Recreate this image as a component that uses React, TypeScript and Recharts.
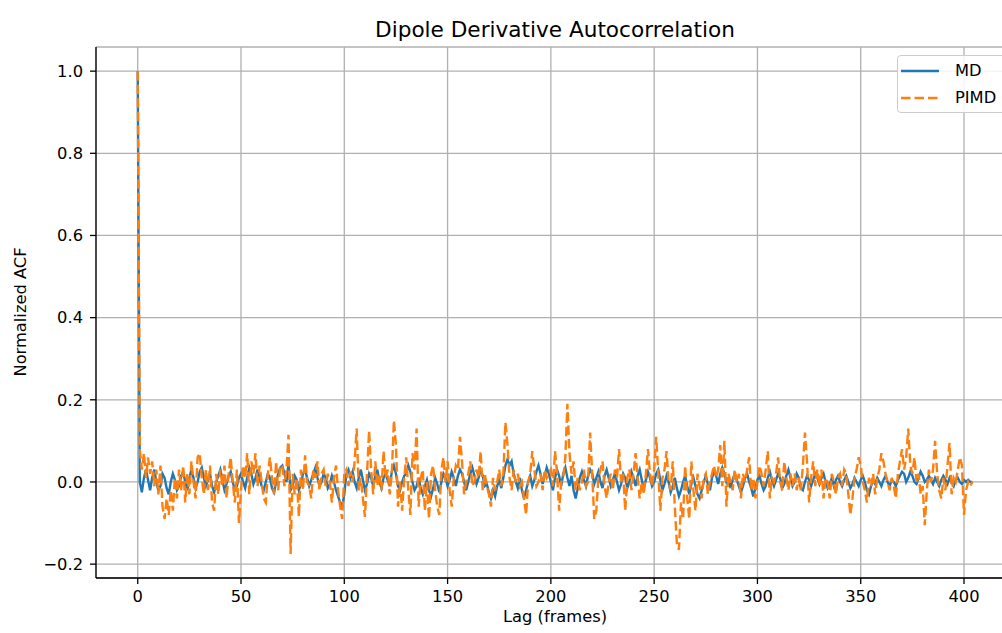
import { LineChart, Line, XAxis, YAxis, CartesianGrid, Legend, Label } from 'recharts'

// normalized ACF of the dipole derivative, one value per lag frame (0..404)
const MD = [
  1.0, 0.0, -0.025, 0.01, 0.03, 0.005, -0.02, 0.01, 0.03, 0.0,
  -0.02, -0.01, 0.02, 0.01, -0.015, -0.03, 0.0, 0.02, 0.005, -0.02,
  -0.01, 0.015, 0.025, 0.0, -0.02, 0.01, 0.03, 0.01, -0.015, 0.0,
  0.025, 0.035, 0.01, -0.01, 0.005, 0.02, -0.01, -0.025, 0.0, 0.015,
  0.03, 0.005, -0.02, -0.005, 0.015, 0.025, 0.0, -0.02, -0.01, 0.01,
  0.02, 0.0, -0.015, 0.01, 0.035, 0.02, -0.005, 0.01, 0.03, 0.01,
  -0.01, -0.02, 0.0, 0.02, 0.01, -0.015, -0.025, 0.0, 0.02, 0.035,
  0.04, 0.02, 0.0, 0.045, -0.02, -0.01, 0.015, 0.005, -0.02, -0.005,
  0.02, 0.03, 0.01, -0.01, 0.005, 0.02, 0.035, 0.01, -0.01, 0.0,
  0.02, 0.01, -0.015, -0.005, 0.015, 0.0, -0.02, -0.035, -0.05, -0.06,
  -0.03, 0.02, 0.03, 0.01, 0.025, 0.0, -0.015, 0.01, 0.03, 0.005,
  -0.02, -0.005, 0.02, 0.01, -0.01, 0.015, 0.03, 0.0, -0.015, 0.01,
  0.02, 0.005, -0.01, 0.025, 0.04, 0.02, -0.01, -0.02, 0.0, 0.015,
  0.02, 0.04, 0.025, 0.0, -0.02, -0.01, 0.01, -0.015, -0.03, -0.01,
  0.005, -0.02, -0.035, -0.015, 0.01, -0.005, -0.025, 0.0, 0.02, 0.01,
  -0.01, 0.005, 0.025, 0.01, -0.01, 0.015, 0.03, 0.02, 0.0, -0.02,
  0.0, 0.02, 0.035, 0.015, -0.005, 0.01, 0.03, 0.015, -0.01, -0.005,
  -0.025, -0.04, -0.02, -0.035, -0.01, 0.005, -0.015, 0.01, 0.04, 0.055,
  0.04, 0.05, 0.02, 0.0, -0.015, 0.01, -0.02, -0.04, -0.02, 0.0,
  0.015, -0.01, 0.005, 0.025, 0.04, 0.02, -0.005, 0.015, 0.035, 0.02,
  0.0, -0.02, 0.01, 0.03, 0.015, -0.01, 0.02, 0.035, 0.01, -0.01,
  0.015, -0.02, -0.04, -0.015, 0.01, 0.025, 0.005, -0.01, 0.015, 0.03,
  0.02, -0.005, 0.01, 0.025, 0.0, -0.015, 0.015, 0.03, 0.01, -0.01,
  0.005, 0.02, 0.0, -0.02, -0.005, 0.02, 0.01, -0.015, 0.0, 0.025,
  0.01, -0.01, 0.015, 0.03, 0.005, -0.015, 0.005, 0.025, 0.01, -0.01,
  0.0, 0.02, 0.03, 0.005, -0.02, -0.005, 0.015, 0.0, -0.025, -0.01,
  0.01, -0.015, -0.035, -0.02, 0.0, 0.015, -0.01, -0.03, -0.005, 0.01,
  -0.01, -0.03, -0.04, -0.02, 0.0, 0.015, -0.005, -0.02, 0.01, 0.025,
  0.015, -0.005, 0.02, 0.035, 0.02, 0.0, 0.01, -0.015, 0.005, 0.02,
  0.005, -0.01, -0.025, -0.01, 0.01, 0.02, 0.0, -0.015, -0.035, -0.015,
  0.005, 0.015, -0.005, -0.02, -0.01, 0.01, 0.025, 0.005, -0.01, 0.005,
  0.02, 0.01, -0.015, -0.005, 0.015, 0.03, 0.01, -0.01, 0.0, 0.02,
  0.01, -0.015, -0.02, 0.0, 0.015, 0.005, -0.01, 0.005, 0.02, 0.01,
  -0.005, 0.01, 0.02, 0.0, -0.015, -0.005, 0.01, -0.01, 0.005, 0.015,
  0.0, -0.01, 0.005, 0.015, 0.0, -0.015, -0.005, 0.01, 0.0, -0.01,
  0.005, 0.015, 0.0, -0.02, -0.03, -0.01, 0.005, -0.005, 0.01, 0.0,
  -0.01, 0.005, 0.015, 0.0, -0.01, 0.005, 0.0, -0.01, 0.005, 0.015,
  0.025, 0.02, 0.0, 0.01, 0.025, 0.015, 0.0, -0.005, 0.01, 0.025,
  0.015, 0.0, 0.005, 0.015, 0.005, -0.005, 0.01, 0.0, -0.01, 0.005,
  0.015, 0.005, -0.005, 0.01, 0.0, -0.01, 0.005, 0.01, 0.0, -0.005,
  0.005, 0.0, 0.005, 0.0, 0.0,
]

const PIMD = [
  1.0, 0.08, 0.03, 0.07, 0.01, 0.06, 0.02, 0.05, -0.01, 0.03,
  -0.03, 0.04, -0.06, -0.09, -0.04, -0.08, -0.02, -0.07, 0.01, -0.04,
  0.03, -0.02, 0.04, -0.05, 0.02, -0.03, 0.05, 0.0, -0.04, 0.06,
  0.07, 0.01, -0.03, 0.03, -0.02, 0.04, -0.05, -0.07, 0.02, -0.03,
  0.03, -0.01, 0.04, -0.04, 0.02, 0.06, 0.0, -0.05, 0.03, -0.1,
  -0.02, 0.04, 0.01, 0.07, -0.03, 0.05, 0.02, 0.07, -0.01, 0.04,
  0.0, -0.04, -0.05, 0.02, 0.06, 0.01, -0.03, 0.05, -0.02, 0.04,
  0.04, -0.01, 0.03, 0.115, -0.175, 0.02, -0.03, 0.01, -0.085, 0.03,
  -0.02, 0.065, 0.0, -0.01, -0.04, 0.03, 0.01, 0.05, -0.02, 0.02,
  0.03, -0.01, 0.02, 0.0, -0.05, 0.01, 0.04, -0.02, -0.06, -0.09,
  0.02, 0.03, -0.01, 0.025, 0.0, 0.05, 0.13, -0.02, 0.01, -0.04,
  -0.085, 0.02, 0.125, 0.03, -0.03, 0.05, -0.01, 0.02, -0.02, 0.075,
  0.01, 0.03, -0.03, 0.02, 0.15, 0.09, -0.06, 0.0, -0.07, 0.01,
  0.06, -0.02, -0.08, 0.07, 0.03, 0.13, -0.06, 0.01, 0.03, -0.07,
  0.0, -0.09, 0.02, 0.04, -0.02, -0.06, -0.08, 0.03, 0.06, 0.0,
  0.05, -0.02, -0.06, 0.01, 0.04, 0.03, 0.11, 0.05, -0.03, 0.0,
  0.02, 0.05, -0.01, 0.0, 0.03, 0.01, 0.075, -0.02, 0.02, -0.01,
  -0.03, -0.06, 0.01, -0.02, 0.0, 0.03, -0.01, 0.02, 0.145, 0.09,
  0.01, -0.02, 0.03, 0.0, 0.02, -0.01, 0.0, -0.04, -0.08, 0.0,
  0.02, 0.075, 0.03, -0.01, 0.0, 0.02, -0.02, 0.03, 0.01, 0.02,
  0.03, -0.01, 0.075, 0.02, -0.07, 0.0, 0.01, 0.06, 0.19, 0.07,
  0.02, 0.05, -0.02, 0.01, -0.02, 0.0, 0.03, -0.01, 0.0, 0.12,
  0.02, -0.09, -0.07, 0.01, 0.03, 0.05, -0.01, -0.04, 0.0, 0.02,
  -0.02, 0.03, 0.01, 0.08, 0.0, 0.02, -0.07, 0.01, 0.03, -0.02,
  0.02, 0.07, 0.01, -0.04, 0.0, -0.03, 0.02, 0.08, 0.02, -0.01,
  0.03, 0.11, 0.02, -0.07, 0.01, 0.03, 0.075, 0.0, -0.02, 0.05,
  -0.06, -0.15, -0.165, -0.05, -0.09, 0.04, -0.04, -0.09, 0.05, -0.02,
  -0.07, 0.02, -0.01, -0.04, 0.01, 0.02, -0.03, 0.0, 0.02, 0.04,
  0.01, 0.03, 0.09, -0.01, 0.1, -0.06, 0.02, 0.0, -0.02, 0.03,
  0.0, 0.02, -0.04, 0.02, 0.0, 0.03, 0.06, -0.02, 0.01, -0.04,
  0.0, 0.04, 0.02, -0.01, 0.03, 0.075, -0.04, 0.01, 0.0, 0.02,
  0.06, 0.0, -0.02, 0.05, 0.01, -0.02, 0.02, -0.01, 0.02, -0.02,
  0.01, -0.02, 0.04, 0.12, 0.05, -0.05, 0.01, 0.05, -0.01, 0.03,
  -0.01, 0.03, -0.04, 0.01, 0.0, -0.04, 0.02, 0.0, -0.03, 0.01,
  0.02, -0.01, 0.03, 0.02, -0.03, -0.08, -0.04, 0.01, 0.03, 0.06,
  0.04, 0.0, -0.02, -0.05, 0.01, -0.01, 0.02, -0.03, 0.01, 0.03,
  0.07, 0.05, 0.02, 0.0, -0.02, 0.01, -0.01, -0.04, 0.02, 0.05,
  0.08, 0.03, 0.06, 0.13, 0.04, 0.02, 0.06, 0.0, 0.02, -0.03,
  -0.01, -0.105, -0.02, 0.03, 0.0, 0.03, 0.1, 0.02, -0.02, -0.04,
  0.01, -0.02, 0.04, 0.095, -0.03, 0.01, 0.0, 0.03, 0.06, 0.04,
  -0.08, -0.02, 0.0, -0.01, 0.0,
]

const X_TICKS = [0, 50, 100, 150, 200, 250, 300, 350, 400]
const Y_TICKS = [-0.2, 0, 0.2, 0.4, 0.6, 0.8, 1.0]

const data = MD.map((v, i) => ({ lag: i, md: v, pimd: PIMD[i] }))

const FONT = '"DejaVu Sans", sans-serif'
const TICK = { fill: '#000', fontSize: 16.3, fontFamily: FONT }
const AXIS = { stroke: '#000', strokeWidth: 1.3 }

const fmtY = (v: number) => v.toFixed(1).replace('-', '\u2212')

function LegendBox({ payload }: any) {
  return (
    <div style={{
      width: 130, height: 58, boxSizing: 'border-box',
      background: 'rgba(255,255,255,0.85)', border: '1px solid #cccccc', borderRadius: 4,
      fontFamily: FONT, fontSize: 16.3, color: '#000',
    }}>
      {(payload ?? []).map((p: any, i: number) => (
        <div key={p.value} style={{ position: 'absolute', left: 3, top: 7 + i * 27, display: 'flex', alignItems: 'center' }}>
          <svg width={40} height={12}>
            <line x1={1} y1={6} x2={39} y2={6} stroke={p.color} strokeWidth={2.4}
              strokeDasharray={i === 1 ? '9.5 4' : undefined} />
          </svg>
          <span style={{ marginLeft: 15, lineHeight: '18px' }}>{p.value}</span>
        </div>
      ))}
    </div>
  )
}

export default function App() {
  return (
    <div style={{ position: 'fixed', left: 0, top: 0, width: 1002, height: 633, overflow: 'hidden', background: '#fff' }}>
      <svg width={1002} height={50} style={{ position: 'absolute', left: 0, top: 0 }}>
        <text x={555} y={36.5} textAnchor="middle" fontFamily={FONT} fontSize={21.6} fill="#000">
          Dipole Derivative Autocorrelation
        </text>
      </svg>
      <div style={{ position: 'absolute', left: 0, top: 0 }}>
        <LineChart width={1014} height={633} data={data} margin={{ top: 47, right: 0, bottom: 0, left: 0 }}>
          <CartesianGrid stroke="#b0b0b0" strokeWidth={1.3} />
          <XAxis
            dataKey="lag" type="number" domain={[-20.2, 424.2]} ticks={X_TICKS}
            height={55} tick={TICK} tickSize={6} tickMargin={6}
            axisLine={AXIS} tickLine={AXIS} allowDataOverflow
          >
            <Label content={() => (
              <text x={555} y={622} textAnchor="middle" fontFamily={FONT} fontSize={16.3} fill="#000">
                Lag (frames)
              </text>
            )} />
          </XAxis>
          <XAxis
            xAxisId="top" orientation="top" dataKey="lag" type="number" domain={[-20.2, 424.2]}
            height={0} tick={false} tickLine={false} axisLine={AXIS}
          />
          <YAxis
            type="number" domain={[-0.23375, 1.05875]} ticks={Y_TICKS} tickFormatter={fmtY}
            width={96} tick={TICK} tickSize={6} tickMargin={7}
            axisLine={AXIS} tickLine={AXIS} allowDataOverflow
          >
            <Label content={() => (
              <text x={20} y={312} transform="rotate(-90 20 312)" textAnchor="middle"
                dominantBaseline="central" fontFamily={FONT} fontSize={16.3} fill="#000">
                Normalized ACF
              </text>
            )} />
          </YAxis>
          <Legend
            layout="horizontal" verticalAlign="middle" align="center"
            wrapperStyle={{ position: 'absolute', left: 897, top: 55, width: 130 }}
            content={<LegendBox />}
          />
          <Line dataKey="md" name="MD" type="linear" stroke="#1f77b4" strokeWidth={2.4}
            dot={false} isAnimationActive={false} />
          <Line dataKey="pimd" name="PIMD" type="linear" stroke="#ff7f0e" strokeWidth={2.4}
            strokeDasharray="9.5 4" dot={false} isAnimationActive={false} />
        </LineChart>
      </div>
    </div>
  )
}
